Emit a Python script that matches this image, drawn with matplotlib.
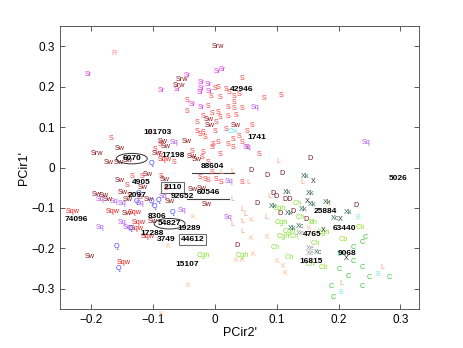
import matplotlib
matplotlib.use("Agg")
import matplotlib.pyplot as plt
from matplotlib.patches import Ellipse

plt.rcParams['font.family'] = ['Liberation Sans', 'DejaVu Sans']

# ---------------- data (PCir2', PCir1') ----------------
S_pts = [(0.044, 0.220), (0.000, 0.196), (0.005, 0.198), (-0.006, 0.176), (0.008, 0.173),
         (0.019, 0.193), (0.023, 0.186), (0.032, 0.176), (0.040, 0.181), (-0.044, 0.166),
         (-0.045, 0.139), (-0.011, 0.151), (0.021, 0.149), (0.032, 0.146), (0.044, 0.146),
         (-0.005, 0.134), (0.005, 0.136), (0.021, 0.126), (0.034, 0.129), (-0.018, 0.126),
         (0.008, 0.124), (-0.028, 0.111), (0.003, 0.111), (-0.019, 0.087), (0.000, 0.089),
         (0.019, 0.094), (-0.029, 0.089), (-0.024, 0.082), (0.053, 0.089), (0.061, 0.104),
         (0.079, 0.171), (0.107, 0.178), (0.031, 0.161), (0.040, 0.077), (0.029, 0.069),
         (-0.016, 0.074), (-0.003, 0.057), (0.021, 0.057), (-0.089, 0.057), (-0.097, 0.045),
         (-0.089, 0.032), (-0.065, 0.012), (-0.036, 0.040), (-0.019, 0.037), (-0.011, 0.012),
         (-0.005, -0.012), (0.003, -0.030), (0.005, 0.062), (0.029, 0.050), (0.044, 0.062),
         (0.052, 0.050), (-0.005, 0.050), (-0.021, 0.025), (0.008, 0.032), (-0.024, -0.025),
         (-0.011, -0.032), (0.044, -0.037), (0.071, 0.032), (-0.086, -0.022), (-0.134, -0.022),
         (-0.118, -0.022), (-0.141, -0.045), (-0.168, 0.072), (-0.078, -0.052), (-0.016, -0.030),
         (0.011, -0.037), (-0.138, -0.069), (-0.120, -0.074), (-0.105, 0.087)]
Sw_pts = [(-0.084, 0.064), (-0.045, 0.064), (-0.079, 0.052), (-0.010, 0.119), (-0.008, 0.104),
          (0.034, 0.104), (-0.154, 0.047), (-0.172, 0.012), (-0.155, 0.012), (-0.141, 0.017),
          (-0.094, 0.035), (-0.037, 0.027), (-0.029, 0.020), (-0.108, -0.017), (-0.154, -0.032),
          (-0.081, -0.030), (-0.036, -0.054), (-0.021, -0.052), (-0.013, -0.092), (-0.073, -0.084),
          (-0.191, -0.067), (-0.173, -0.079), (-0.149, -0.062), (-0.141, -0.079), (-0.107, -0.079),
          (-0.142, -0.114), (-0.100, -0.134), (-0.202, -0.220), (-0.116, -0.050), (-0.180, -0.069)]
Srw_pts = [(0.006, 0.299), (-0.053, 0.218), (-0.057, 0.203), (-0.191, 0.035)]
Sr_pts = [(-0.204, 0.230), (-0.086, 0.191), (-0.061, 0.193), (-0.045, 0.228), (0.005, 0.238),
          (0.013, 0.243), (-0.021, 0.210), (-0.011, 0.205), (-0.021, 0.196), (-0.024, 0.186),
          (-0.008, 0.188), (-0.036, 0.156), (-0.021, 0.149)]
Sq_pts = [(0.065, 0.149), (0.244, 0.062), (0.052, 0.050), (-0.065, 0.062), (0.024, -0.035),
          (-0.083, -0.072), (-0.052, -0.106), (0.021, -0.124), (-0.186, -0.079), (-0.162, -0.084),
          (-0.150, -0.089), (-0.121, -0.089), (-0.186, -0.149), (-0.149, -0.136), (-0.142, -0.149)]
Sqw_pts = [(-0.230, -0.109), (-0.165, -0.109), (-0.129, -0.111), (-0.123, -0.136), (-0.126, -0.151),
           (-0.108, -0.171), (-0.147, -0.235), (-0.081, 0.020)]
Q_pts = [(-0.102, 0.010), (-0.123, -0.064), (-0.126, -0.084), (-0.091, -0.082), (-0.097, -0.097),
         (-0.068, -0.111), (-0.136, -0.151), (-0.159, -0.196), (-0.155, -0.250), (-0.102, -0.084)]
R_pts = [(-0.163, 0.282)]
Cw_pts = [(0.029, 0.089)]
D_pts = [(0.154, 0.022), (0.058, -0.007), (0.084, -0.020), (0.108, -0.015), (0.094, -0.064),
         (0.099, -0.072), (0.068, -0.089), (0.126, -0.109), (0.105, -0.114), (0.147, -0.129),
         (0.228, -0.094), (0.036, -0.193)]
DD_pts = [(0.117, -0.079)]
L_pts = [(0.102, 0.015), (0.055, -0.037), (0.142, -0.037), (0.089, -0.072), (0.029, -0.010),
         (0.011, -0.012), (0.029, -0.079), (0.044, -0.104), (0.050, -0.116), (0.028, -0.141),
         (0.045, -0.134), (0.084, -0.124), (0.044, -0.158), (0.270, -0.248), (0.205, -0.287)]
K_pts = [(-0.036, -0.124), (-0.076, -0.196), (0.034, -0.230), (0.043, -0.230), (0.061, -0.216),
         (0.058, -0.131), (0.058, -0.176), (0.084, -0.173), (0.100, -0.233), (0.110, -0.245),
         (0.113, -0.262), (-0.044, -0.292), (-0.087, -0.364), (0.152, -0.151)]
T_pts = [(0.184, -0.092)]
Xk_pts = [(0.146, -0.022), (0.117, -0.062), (0.154, -0.064), (0.157, -0.092), (0.181, -0.087),
          (0.094, -0.097), (0.142, -0.104), (0.120, -0.114), (0.215, -0.111), (0.125, -0.151)]
X_pts = [(0.159, -0.035), (0.150, -0.084), (0.202, -0.129), (0.175, -0.156), (0.212, -0.225)]
Xc_pts = [(0.194, -0.126), (0.138, -0.146), (0.167, -0.210)]
Xe_pts = [(0.138, -0.163), (0.154, -0.200), (0.154, -0.213)]
Cgh_pts = [(0.104, -0.101), (0.108, -0.136), (0.121, -0.158), (0.110, -0.171), (0.045, -0.218),
           (-0.019, -0.218), (0.175, -0.161)]
Ch_pts = [(0.133, -0.089), (0.162, -0.188), (0.097, -0.198), (0.121, -0.223), (0.154, -0.240),
          (0.138, -0.124), (0.129, -0.171)]
Bh_pts = [(0.159, -0.136)]
Cb_pts = [(0.235, -0.149), (0.207, -0.178), (0.175, -0.248)]
C_pts = [(0.243, -0.173), (0.239, -0.186), (0.223, -0.198), (0.223, -0.233), (0.201, -0.252),
         (0.239, -0.248), (0.215, -0.270), (0.249, -0.272), (0.282, -0.272), (0.239, -0.295),
         (0.189, -0.295), (0.191, -0.322)]
B_pts = [(0.231, -0.124), (0.264, -0.265), (0.204, -0.309), (0.201, -0.215)]

num_labels = ["42946", "101703", "1741", "6070", "17198", "88604", "4905", "2110", "2097",
              "92652", "60546", "5026", "25884", "74096", "8306", "54827", "19289", "17288",
              "3749", "44612", "63440", "4765", "9068", "16815", "15107"]
num_x = [0.044, -0.092, 0.068, -0.134, -0.068, -0.003, -0.118, -0.068, -0.126,
         -0.053, -0.011, 0.296, 0.178, -0.223, -0.094, -0.073, -0.042, -0.102,
         -0.079, -0.036, 0.210, 0.157, 0.214, 0.155, -0.045]
num_y = [0.193, 0.087, 0.074, 0.022, 0.030, 0.002, -0.037, -0.050, -0.069,
         -0.072, -0.062, -0.027, -0.109, -0.129, -0.121, -0.139, -0.151, -0.163,
         -0.178, -0.178, -0.151, -0.166, -0.213, -0.233, -0.240]

circled = ["6070", "54827"]
boxed = ["2110", "44612"]
underlined = ["88604", "60546"]

groups = [
    ("S", S_pts, "#f23a3a"), ("Sr", Sr_pts, "#e23ae2"), ("Sq", Sq_pts, "#b058f2"),
    ("Sqw", Sqw_pts, "#e81e1e"), ("Sw", Sw_pts, "#8a181c"), ("Srw", Srw_pts, "#8a181c"),
    ("Q", Q_pts, "#4444ff"), ("R", R_pts, "#ff7ea0"), ("Cw", Cw_pts, "#6ae6f0"),
    ("L", L_pts, "#f39a70"), ("K", K_pts, "#f8be8c"), ("T", T_pts, "#f49a58"),
    ("D", D_pts, "#7a1826"), ("DD", DD_pts, "#7a1826"),
    ("Cgh", Cgh_pts, "#7ee22a"), ("Ch", Ch_pts, "#86e436"), ("Bh", Bh_pts, "#7ede36"),
    ("Cb", Cb_pts, "#9ade22"), ("C", C_pts, "#36c436"), ("B", B_pts, "#80eee2"),
    ("Xe", Xe_pts, "#9a9a9a"), ("Xc", Xc_pts, "#38684c"), ("Xk", Xk_pts, "#2c6454"),
    ("X", X_pts, "#2a2a2a"),
]

fig = plt.figure(figsize=(4.63, 3.48), dpi=100)
ax = fig.add_axes([0.1296, 0.112, 0.7754, 0.8132])
ax.set_xlim(-0.25, 0.33)
ax.set_ylim(-0.35, 0.35)

for lab, pts, col in groups:
    for x, y in pts:
        ax.text(x, y, lab, color=col, fontsize=5.2, ha="center", va="center",
                clip_on=False)

for lab, x, y in zip(num_labels, num_x, num_y):
    t = ax.text(x, y, lab, color="black", fontsize=6.0, fontweight="bold",
                ha="center", va="center", zorder=5)
    if lab in boxed:
        t.set_bbox(dict(boxstyle="square,pad=0.25", fc="none", ec="#707070", lw=0.8))
    if lab in circled:
        ax.add_patch(Ellipse((x, y), width=0.050, height=0.026, fill=False,
                             ec="#303030", lw=0.7, zorder=5))
    if lab in underlined:
        ax.plot([x - 0.034, x + 0.034], [y - 0.016, y - 0.016], color="#404040", lw=0.8)

ax.set_xticks([-0.2, -0.1, 0, 0.1, 0.2, 0.3])
ax.set_yticks([-0.3, -0.2, -0.1, 0, 0.1, 0.2, 0.3])
ax.set_xticklabels(["\u22120.2", "\u22120.1", "0", "0.1", "0.2", "0.3"])
ax.set_yticklabels(["\u22120.3", "\u22120.2", "\u22120.1", "0", "0.1", "0.2", "0.3"])
ax.tick_params(direction="in", top=True, right=True, length=3.5, width=0.6,
               labelsize=8.5, colors="#404040", labelcolor="black")
for sp in ax.spines.values():
    sp.set_color("#404040")
    sp.set_linewidth(0.6)
ax.set_xlabel("PCir2'", fontsize=9, labelpad=1)
ax.set_ylabel("PCir1'", fontsize=9, labelpad=1)

fig.savefig("out.png", dpi=100)
